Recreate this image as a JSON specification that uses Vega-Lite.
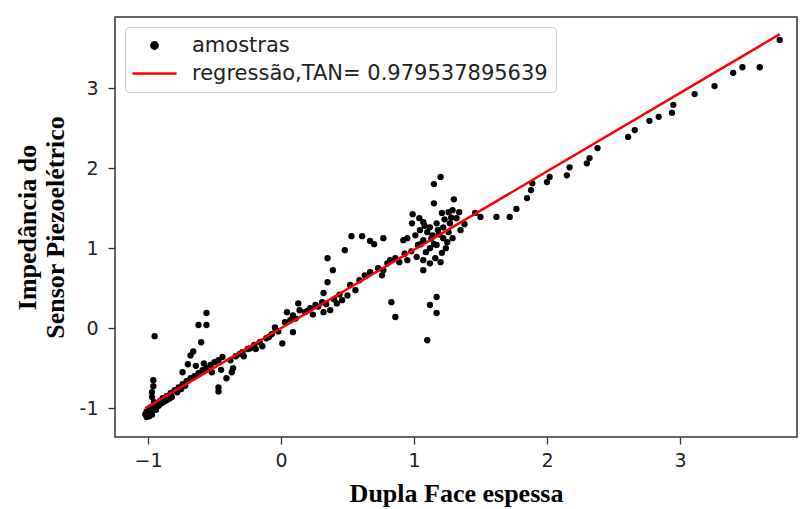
{
  "$schema": "https://vega.github.io/schema/vega-lite/v6.json",
  "width": 682,
  "height": 420,
  "autosize": {"type": "none"},
  "padding": {"left": 115, "top": 17, "right": 4, "bottom": 72},
  "background": "white",
  "config": {
    "view": {"stroke": "#333333", "strokeWidth": 1.5},
    "axis": {
      "domain": false, "grid": false, "ticks": true, "tickColor": "#333333", "tickWidth": 1.3, "tickSize": 7,
      "labelFont": "DejaVu Sans", "labelFontSize": 19, "labelColor": "#222222",
      "titleFont": "Liberation Serif", "titleFontWeight": "bold", "titleFontSize": 26, "titleColor": "#000000"
    },
    "legend": {
      "orient": "top-left", "offset": 10, "fillColor": "white", "strokeColor": "#cccccc", "cornerRadius": 4,
      "padding": 8, "labelFont": "DejaVu Sans", "labelFontSize": 21, "labelColor": "#222222", "labelLimit": 0,
      "symbolSize": 40, "symbolOffset": 11, "labelOffset": 27, "rowPadding": 6
    }
  },
  "datasets": {
    "amostras": [
      {"x": -1.02, "y": -1.075}, {"x": -1.01, "y": -1.04}, {"x": -0.99, "y": -1.1}, {"x": -0.98, "y": -1.06},
      {"x": -0.96, "y": -1.025}, {"x": -1.01, "y": -1.11}, {"x": -0.985, "y": -1.01}, {"x": -0.95, "y": -0.99},
      {"x": -0.93, "y": -0.95}, {"x": -0.91, "y": -0.91}, {"x": -0.89, "y": -0.875}, {"x": -0.86, "y": -0.85},
      {"x": -0.83, "y": -0.81}, {"x": -0.8, "y": -0.775}, {"x": -0.77, "y": -0.74}, {"x": -0.74, "y": -0.7},
      {"x": -0.71, "y": -0.66}, {"x": -0.68, "y": -0.625}, {"x": -0.65, "y": -0.6}, {"x": -0.62, "y": -0.56},
      {"x": -0.59, "y": -0.525}, {"x": -0.56, "y": -0.5}, {"x": -0.53, "y": -0.46}, {"x": -0.5, "y": -0.425},
      {"x": -0.47, "y": -0.4}, {"x": -0.44, "y": -0.36},
      {"x": -0.97, "y": -1.08}, {"x": -0.94, "y": -1.02}, {"x": -0.92, "y": -0.97}, {"x": -0.88, "y": -0.92},
      {"x": -0.84, "y": -0.88}, {"x": -0.99, "y": -1.05}, {"x": -1.0, "y": -1.09}, {"x": -0.96, "y": -1.0},
      {"x": -0.9, "y": -0.94}, {"x": -0.86, "y": -0.9}, {"x": -0.82, "y": -0.86}, {"x": -0.78, "y": -0.8},
      {"x": -0.75, "y": -0.76}, {"x": -0.72, "y": -0.72},
      {"x": -0.96, "y": -0.65}, {"x": -0.96, "y": -0.725}, {"x": -0.97, "y": -0.8}, {"x": -0.97, "y": -0.86},
      {"x": -0.955, "y": -0.925}, {"x": -0.95, "y": -0.1},
      {"x": -0.56, "y": 0.19}, {"x": -0.62, "y": 0.04}, {"x": -0.56, "y": 0.04}, {"x": -0.6, "y": -0.175},
      {"x": -0.66, "y": -0.29}, {"x": -0.68, "y": -0.34}, {"x": -0.7, "y": -0.45}, {"x": -0.74, "y": -0.55},
      {"x": -0.64, "y": -0.47}, {"x": -0.58, "y": -0.44},
      {"x": -0.47, "y": -0.74}, {"x": -0.47, "y": -0.79}, {"x": -0.41, "y": -0.625}, {"x": -0.36, "y": -0.5},
      {"x": -0.37, "y": -0.55}, {"x": -0.52, "y": -0.55}, {"x": -0.45, "y": -0.52},
      {"x": -0.38, "y": -0.4}, {"x": -0.34, "y": -0.35}, {"x": -0.29, "y": -0.3}, {"x": -0.25, "y": -0.26},
      {"x": -0.2, "y": -0.21}, {"x": -0.16, "y": -0.175}, {"x": -0.11, "y": -0.125}, {"x": -0.07, "y": -0.075},
      {"x": -0.02, "y": -0.04}, {"x": -0.28, "y": -0.35}, {"x": -0.19, "y": -0.26}, {"x": -0.14, "y": -0.225},
      {"x": -0.31, "y": -0.32}, {"x": -0.23, "y": -0.25}, {"x": -0.09, "y": -0.11}, {"x": -0.04, "y": -0.02},
      {"x": -0.045, "y": 0.01}, {"x": 0.045, "y": 0.2}, {"x": 0.09, "y": 0.16}, {"x": 0.13, "y": 0.31},
      {"x": 0.14, "y": 0.225}, {"x": 0.09, "y": -0.05}, {"x": 0.01, "y": -0.19}, {"x": 0.03, "y": 0.075},
      {"x": 0.07, "y": 0.1}, {"x": 0.18, "y": 0.2}, {"x": 0.22, "y": 0.25}, {"x": 0.26, "y": 0.29},
      {"x": 0.31, "y": 0.325}, {"x": 0.37, "y": 0.225}, {"x": 0.42, "y": 0.31}, {"x": 0.5, "y": 0.41},
      {"x": 0.52, "y": 0.54}, {"x": 0.59, "y": 0.6}, {"x": 0.63, "y": 0.66}, {"x": 0.46, "y": 0.35},
      {"x": 0.56, "y": 0.475}, {"x": 0.11, "y": 0.12}, {"x": 0.2, "y": 0.22}, {"x": 0.28, "y": 0.27},
      {"x": 0.34, "y": 0.3}, {"x": 0.4, "y": 0.36}, {"x": 0.44, "y": 0.42}, {"x": 0.24, "y": 0.17},
      {"x": 0.32, "y": 0.2},
      {"x": 0.32, "y": 0.44}, {"x": 0.35, "y": 0.575}, {"x": 0.39, "y": 0.725}, {"x": 0.35, "y": 0.875},
      {"x": 0.48, "y": 0.975}, {"x": 0.53, "y": 1.15}, {"x": 0.61, "y": 1.15}, {"x": 0.67, "y": 1.09},
      {"x": 0.7, "y": 1.05}, {"x": 0.77, "y": 1.125}, {"x": 0.92, "y": 1.1},
      {"x": 0.67, "y": 0.7}, {"x": 0.73, "y": 0.75}, {"x": 0.8, "y": 0.81}, {"x": 0.77, "y": 0.725},
      {"x": 0.82, "y": 0.85}, {"x": 0.86, "y": 0.875}, {"x": 0.89, "y": 0.825}, {"x": 0.95, "y": 0.85},
      {"x": 1.02, "y": 0.89}, {"x": 1.07, "y": 0.85}, {"x": 1.12, "y": 0.81}, {"x": 1.2, "y": 0.825},
      {"x": 1.07, "y": 0.725}, {"x": 0.83, "y": 0.325}, {"x": 0.86, "y": 0.14}, {"x": 1.1, "y": -0.15},
      {"x": 1.12, "y": 0.29}, {"x": 1.17, "y": 0.39}, {"x": 1.17, "y": 0.19}, {"x": 0.76, "y": 0.66},
      {"x": 0.93, "y": 0.93}, {"x": 0.98, "y": 0.96},
      {"x": 1.2, "y": 1.89}, {"x": 1.15, "y": 1.8}, {"x": 1.15, "y": 1.56}, {"x": 1.3, "y": 1.61},
      {"x": 0.99, "y": 1.425}, {"x": 0.985, "y": 1.31}, {"x": 1.21, "y": 1.44}, {"x": 1.26, "y": 1.45},
      {"x": 1.29, "y": 1.475}, {"x": 1.07, "y": 1.325}, {"x": 1.12, "y": 1.26}, {"x": 1.17, "y": 1.31},
      {"x": 1.22, "y": 1.26}, {"x": 1.27, "y": 1.31}, {"x": 1.35, "y": 1.225}, {"x": 1.1, "y": 1.2},
      {"x": 1.14, "y": 1.16}, {"x": 1.22, "y": 1.125}, {"x": 1.07, "y": 1.1}, {"x": 1.25, "y": 1.075},
      {"x": 1.17, "y": 1.04}, {"x": 1.12, "y": 1.0}, {"x": 1.21, "y": 0.94}, {"x": 1.045, "y": 1.225},
      {"x": 1.03, "y": 1.04}, {"x": 1.09, "y": 0.95}, {"x": 1.01, "y": 1.16}, {"x": 1.18, "y": 1.225},
      {"x": 1.23, "y": 1.36}, {"x": 1.32, "y": 1.375}, {"x": 1.04, "y": 1.375}, {"x": 0.95, "y": 1.125},
      {"x": 1.16, "y": 0.875}, {"x": 1.24, "y": 1.0}, {"x": 1.29, "y": 1.125}, {"x": 1.38, "y": 1.3},
      {"x": 1.13, "y": 1.12}, {"x": 1.19, "y": 1.17}, {"x": 1.26, "y": 1.2}, {"x": 1.05, "y": 1.05},
      {"x": 1.15, "y": 1.05}, {"x": 1.08, "y": 1.28}, {"x": 1.28, "y": 1.38}, {"x": 1.34, "y": 1.45},
      {"x": 1.46, "y": 1.44}, {"x": 1.5, "y": 1.39}, {"x": 1.62, "y": 1.39}, {"x": 1.72, "y": 1.39},
      {"x": 1.77, "y": 1.49}, {"x": 1.85, "y": 1.625}, {"x": 1.88, "y": 1.725}, {"x": 1.89, "y": 1.81},
      {"x": 2.0, "y": 1.825}, {"x": 2.02, "y": 1.89}, {"x": 2.15, "y": 1.91}, {"x": 2.17, "y": 2.01},
      {"x": 2.3, "y": 2.06}, {"x": 2.32, "y": 2.125}, {"x": 2.38, "y": 2.25}, {"x": 2.61, "y": 2.39},
      {"x": 2.66, "y": 2.475}, {"x": 2.77, "y": 2.59}, {"x": 2.84, "y": 2.64}, {"x": 2.94, "y": 2.69},
      {"x": 2.95, "y": 2.79}, {"x": 3.11, "y": 2.925}, {"x": 3.26, "y": 3.025}, {"x": 3.4, "y": 3.19},
      {"x": 3.47, "y": 3.26}, {"x": 3.6, "y": 3.26}, {"x": 3.75, "y": 3.6}
    ],
    "regressao": [
      {"x": -1.02, "y": -0.999},
      {"x": 3.75, "y": 3.673}
    ]
  },
  "layer": [
    {
      "data": {"name": "amostras"},
      "transform": [{"calculate": "'amostras'", "as": "serie"}],
      "mark": {"type": "point", "filled": true, "size": 40, "opacity": 1},
      "encoding": {
        "x": {
          "field": "x", "type": "quantitative",
          "scale": {"domain": [-1.248, 3.88], "nice": false, "zero": false},
          "axis": {"values": [-1, 0, 1, 2, 3], "format": "d", "labelPadding": 7, "title": "Dupla Face espessa", "titlePadding": 10}
        },
        "y": {
          "field": "y", "type": "quantitative",
          "scale": {"domain": [-1.359, 3.8875], "nice": false, "zero": false},
          "axis": {
            "values": [-1, 0, 1, 2, 3], "format": "d", "labelPadding": 10,
            "labelExpr": "replace(datum.label, '\u2212', '-')",
            "title": ["Impedância do", "Sensor Piezoelétrico"], "titlePadding": 11, "titleLineHeight": 28
          }
        },
        "color": {
          "field": "serie", "type": "nominal",
          "scale": {"domain": ["amostras", "regressão,TAN= 0.979537895639"], "range": ["#000000", "#ff0000"]},
          "legend": {
            "title": null,
            "encode": {
              "symbols": {
                "update": {
                  "shape": {"signal": "datum.value === 'amostras' ? 'circle' : 'M-7,0H7'"},
                  "size": {"value": 40},
                  "fill": {"signal": "datum.value === 'amostras' ? '#000000' : 'transparent'"},
                  "stroke": {"signal": "datum.value === 'amostras' ? 'transparent' : '#ff0000'"},
                  "strokeWidth": {"value": 2.5},
                  "opacity": {"value": 1}
                }
              }
            }
          }
        }
      }
    },
    {
      "data": {"name": "regressao"},
      "transform": [{"calculate": "'regressão,TAN= 0.979537895639'", "as": "serie"}],
      "mark": {"type": "line", "strokeWidth": 2.5},
      "encoding": {
        "x": {"field": "x", "type": "quantitative"},
        "y": {"field": "y", "type": "quantitative"},
        "color": {
          "field": "serie", "type": "nominal",
          "legend": {
            "title": null,
            "encode": {
              "symbols": {
                "update": {
                  "shape": {"signal": "datum.value === 'amostras' ? 'circle' : 'M-7,0H7'"},
                  "size": {"value": 40},
                  "fill": {"signal": "datum.value === 'amostras' ? '#000000' : 'transparent'"},
                  "stroke": {"signal": "datum.value === 'amostras' ? 'transparent' : '#ff0000'"},
                  "strokeWidth": {"value": 2.5},
                  "opacity": {"value": 1}
                }
              }
            }
          }
        }
      }
    }
  ]
}
